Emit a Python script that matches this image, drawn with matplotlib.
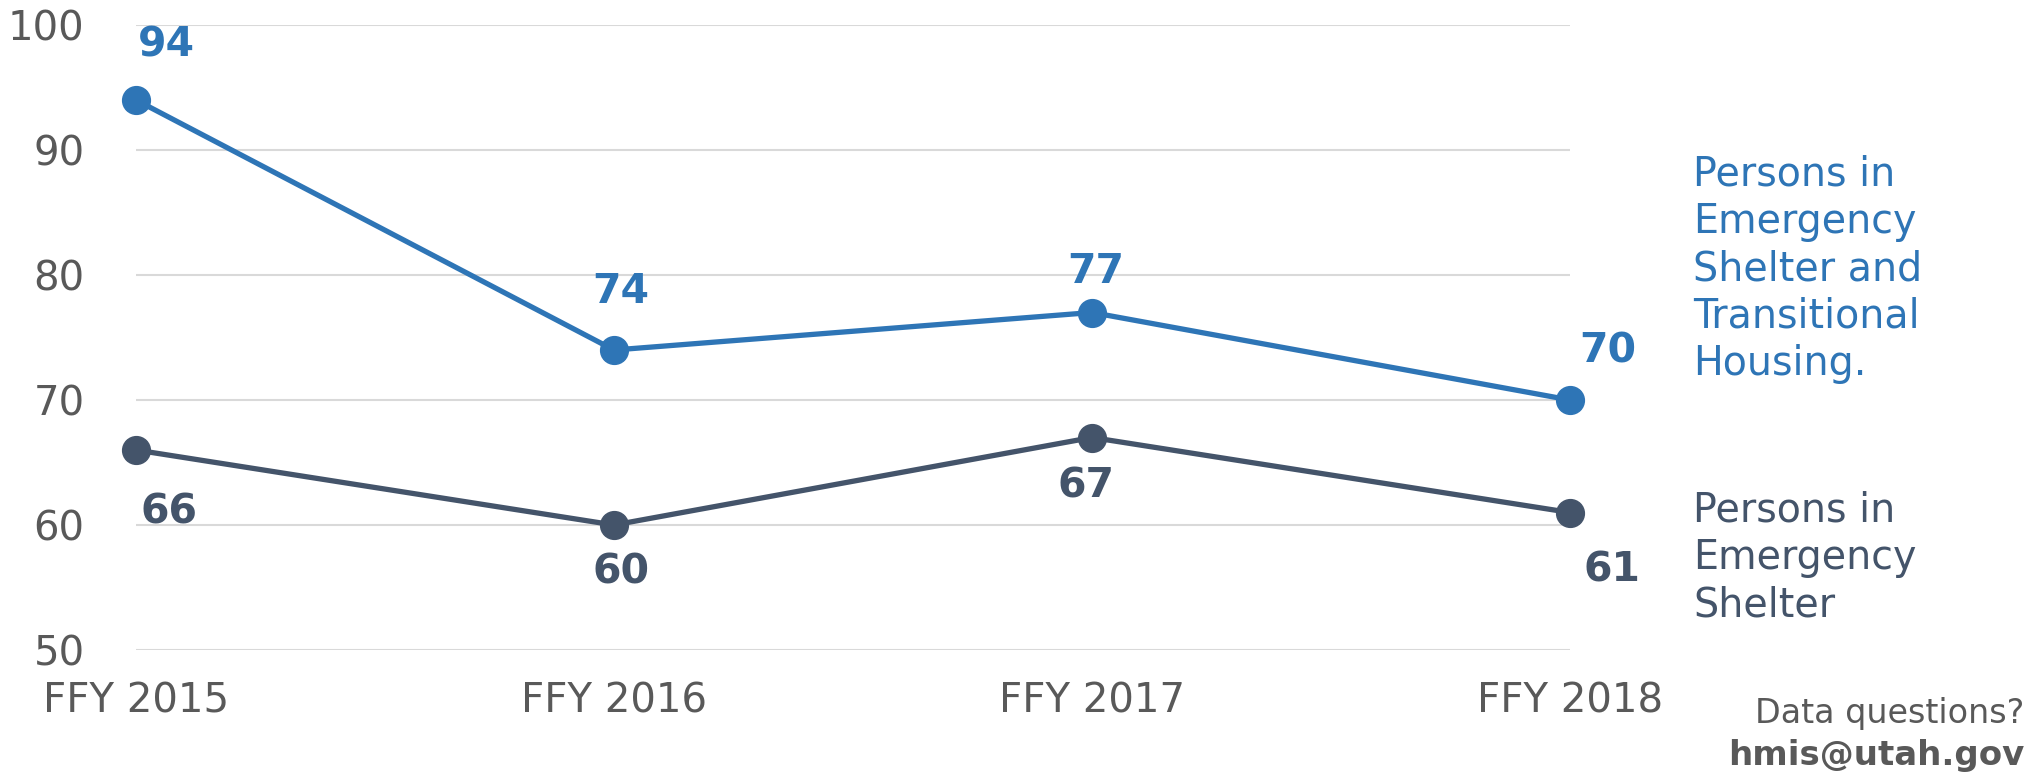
import matplotlib

matplotlib.use("Agg")
import matplotlib.pyplot as plt

years = ["FFY 2015", "FFY 2016", "FFY 2017", "FFY 2018"]
shelter_and_th = [94, 74, 77, 70]
shelter_only = [66, 60, 67, 61]
y_ticks = [50, 60, 70, 80, 90, 100]

BLUE = "#2e75b6"
DARK = "#44546a"
GREY_TEXT = "#595959"

# label offsets (points) relative to each marker
blue_offsets = [(22, 39), (5, 42), (3, 29), (27, 35)]
dark_offsets = [(24, -45), (5, -34), (-4, -35), (30, -42)]

W, H = 2028, 772
fig = plt.figure(figsize=(W / 100, H / 100), dpi=100)
fig.patch.set_facecolor("white")
ax = fig.add_axes([136 / W, 1 - 650 / H, (1570 - 136) / W, (650 - 25) / H])

x = list(range(len(years)))
ax.plot(x, shelter_and_th, color=BLUE, linewidth=3.8, marker="o", markersize=20, zorder=3, clip_on=False)
ax.plot(x, shelter_only, color=DARK, linewidth=3.8, marker="o", markersize=20, zorder=3, clip_on=False)

for xi, val, off in zip(x, shelter_and_th, blue_offsets):
    ax.annotate(str(val), (xi, val), xytext=off, textcoords="offset points",
                ha="center", va="center", fontsize=29.5, fontweight="bold", color=BLUE)
for xi, val, off in zip(x, shelter_only, dark_offsets):
    ax.annotate(str(val), (xi, val), xytext=off, textcoords="offset points",
                ha="center", va="center", fontsize=29.5, fontweight="bold", color=DARK)

ax.set_xlim(0, len(years) - 1)
ax.set_ylim(50, 100)
ax.set_yticks(y_ticks)
ax.set_xticks(x)
ax.set_xticklabels(years)
ax.grid(axis="y", color="#d9d9d9", linewidth=1.5)
ax.set_axisbelow(True)
for spine in ax.spines.values():
    spine.set_visible(False)
ax.tick_params(axis="both", length=0, labelsize=29, labelcolor=GREY_TEXT)
ax.tick_params(axis="y", pad=37)
ax.tick_params(axis="x", pad=23)

fig.text(1693 / W, 1 - 155 / H, "Persons in\nEmergency\nShelter and\nTransitional\nHousing.",
         ha="left", va="top", fontsize=28.5, color=BLUE, linespacing=1.23)
fig.text(1693 / W, 1 - 491 / H, "Persons in\nEmergency\nShelter",
         ha="left", va="top", fontsize=28.5, color=DARK, linespacing=1.23)

fig.text(2024 / W, 1 - 723 / H, "Data questions?", ha="right", va="baseline", fontsize=24, color=GREY_TEXT)
fig.text(2024 / W, 1 - 765 / H, "hmis@utah.gov", ha="right", va="baseline", fontsize=24.5,
         fontweight="bold", color=GREY_TEXT)

fig.savefig("out.png", dpi=100)
plt.close(fig)
